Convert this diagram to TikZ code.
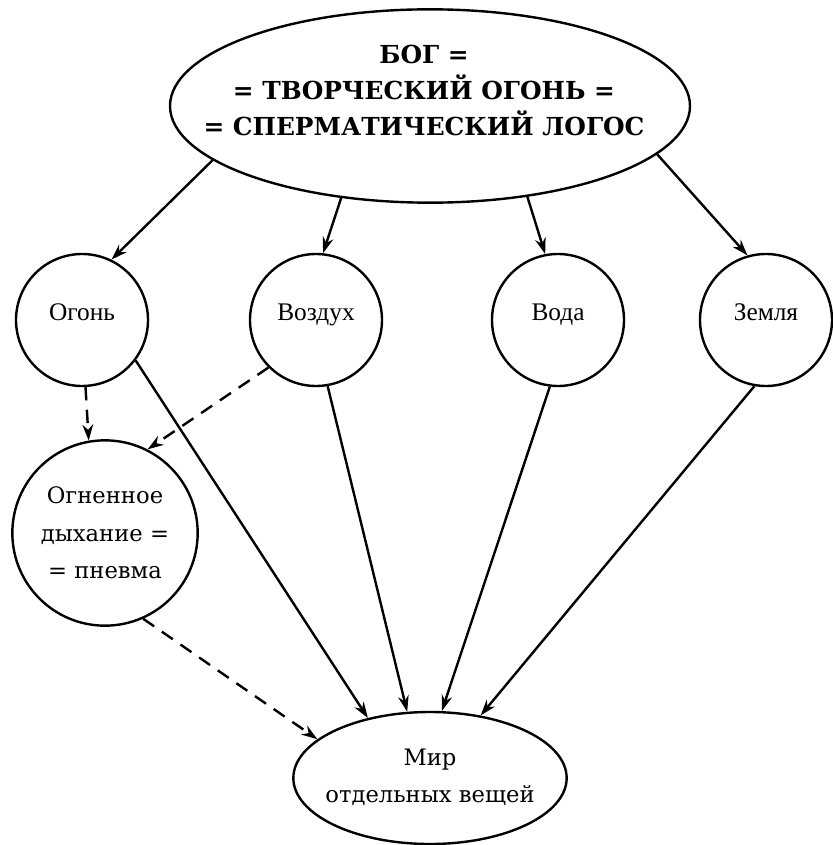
\documentclass[tikz,border=0pt]{standalone}
\usepackage{fontspec}
\setmainfont{Liberation Serif}
\newfontfamily\godfont{DejaVu Serif}
\usetikzlibrary{arrows.meta,shapes}

\begin{document}
\begin{tikzpicture}[x=0.75pt,y=-0.75pt,line width=1.8pt,
	>={Stealth[length=12pt,width=8pt]},
	elem/.style={draw,circle,minimum size=99pt,inner sep=0pt,text height=12pt,text depth=12pt,font=\fontsize{19}{28}\selectfont},
	breath/.style={draw,circle,minimum size=139pt,inner sep=0pt,align=center,font=\godfont\fontsize{17}{28}\selectfont},
	oval/.style={draw,ellipse,inner sep=0pt},
	txt/.style={align=center,inner sep=0pt,font=\godfont\fontsize{17}{28}\selectfont},
	dasharr/.style={->,dash pattern=on 10pt off 7pt}]
\useasboundingbox (0,0) rectangle (832,845);
%god
\node[oval,minimum width=390pt,minimum height=145pt] (god) at (430,106) {};
\node[txt,font=\godfont\bfseries\fontsize{18.6}{27}\selectfont] (godtext) at (424,90)
	{БОГ =\\= ТВОРЧЕСКИЙ ОГОНЬ =\\= СПЕРМАТИЧЕСКИЙ ЛОГОС};
%elements
\node[elem] (fire) at (82,320) {Огонь};
\node[elem] (air) at (316,320) {Воздух};
\node[elem] (water) at (558,320) {Вода};
\node[elem] (earth) at (766,320) {Земля};
\node[breath] (pneuma) at (105,533) {Огненное\\дыхание =\\= пневма};
%world
\node[oval,minimum width=205pt,minimum height=99pt] (world) at (430,778) {};
\node[txt] (worldtext) at (430,777) {Мир\\отдельных вещей};
%arrows from god
\draw[->] (god.194) -- (fire.64);
\draw[->] (god.226) -- (air.84);
\draw[->] (god.317) -- (water.101);
\draw[->] (god.348) -- (earth.106);
%arrows to the world
\draw[->] (fire.-37) -- (world.136);
\draw[->] (air.-80) -- (world.109);
\draw[->] (water.-97) -- (world.80);
\draw[->] (earth.-100) -- (world.51);
%pneuma
\draw[dasharr] (fire.-87) -- (pneuma.100);
\draw[dasharr] (air.225) -- (pneuma.63);
\draw[dasharr] (pneuma.-66) -- (world.161);
\end{tikzpicture}
\end{document}
